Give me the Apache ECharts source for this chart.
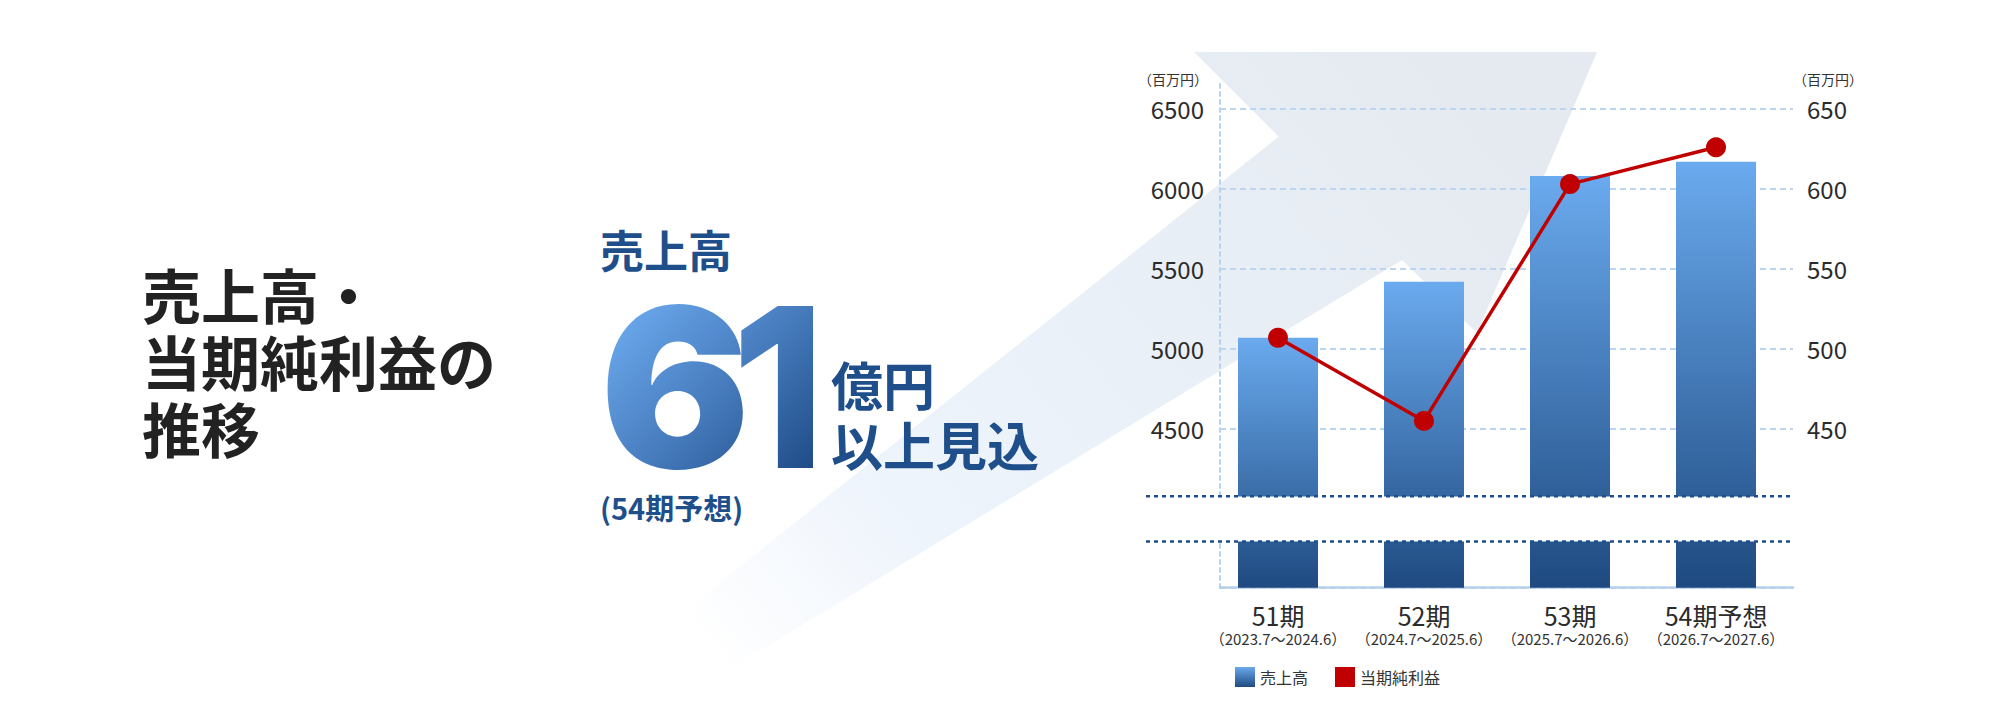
<!DOCTYPE html>
<html><head><meta charset="utf-8">
<script src="https://cdn.jsdelivr.net/npm/echarts@6/dist/echarts.min.js"></script>
<style>
html,body{margin:0;padding:0;background:#fff}
#wrap{position:relative;width:2000px;height:714px}
#c{position:absolute;left:0;top:0;width:2000px;height:714px}
#big{position:absolute;left:600px;top:298px;margin:0;font-family:Inter,Lato,sans-serif;font-weight:900;font-size:223px;line-height:0.8;
  letter-spacing:-19px;white-space:nowrap;color:transparent;
  background:linear-gradient(135deg,#72b2f6 0%,#4a80c2 50%,#1d4a85 100%);-webkit-background-clip:text;background-clip:text;}
</style>
</head><body><div id="wrap"><div id="c"></div><div id="big"></div></div>
<script>
// ---- data ----
const categories = ['51期', '52期', '53期', '54期予想'];
const periods = ['（2023.7～2024.6）', '（2024.7～2025.6）', '（2025.7～2026.6）', '（2026.7～2027.6）'];
const sales = [5070, 5420, 6080, 6170];      // 売上高 (百万円)
const profit = [507, 455, 603, 626];         // 当期純利益 (百万円)
const salesAxis = { min: 0, max: 6660, interval: 500, firstLabel: 4500, brkStart: 288, brkEnd: 4080, brkGap: 284 };
const profitAxis = { min: 0, max: 666, interval: 50, firstLabel: 450, brkStart: 28.8, brkEnd: 408, brkGap: 28.4 };
const unitLabel = '（百万円）';
const headline = { label: '売上高', digits: '61', unit: '億円\n以上見込', note: '(54期予想)' };

document.getElementById('big').textContent = headline.digits;

// ---- style ----
const FONT = '"Noto Sans CJK JP", "Noto Sans", sans-serif';
const NAVY = '#1f4f8a';
const TXT = '#333';
const chart = echarts.init(document.getElementById('c'), null, { renderer: 'svg' });

const barGrad = new echarts.graphic.LinearGradient(0, 0, 0, 1, [
  { offset: 0, color: '#6aaaee' }, { offset: 1, color: '#1e4a80' }
]);
const arrowGrad = new echarts.graphic.LinearGradient(1450, 60, 720, 665, [
  { offset: 0, color: '#e5eaf1' }, { offset: 0.45, color: '#eaf0f7' },
  { offset: 0.75, color: '#eef4fc' }, { offset: 1, color: '#ffffff' }
], true);

function labelFmt(ax) {
  return v => (v >= ax.firstLabel && Math.abs(v / ax.interval - Math.round(v / ax.interval)) < 1e-6 ? String(Math.round(v)) : '');
}

function makeY(ax, grid, pos, visible, extra) {
  return Object.assign({
    type: 'value', gridIndex: grid, position: pos, min: ax.min, max: ax.max, interval: ax.interval,
    show: visible,
    breaks: [{ start: ax.brkStart, end: ax.brkEnd, gap: ax.brkGap }],
    breakArea: { show: false },
    axisTick: { show: false },
    axisLine: { show: false },
    splitLine: { show: false },
    axisLabel: { show: visible, fontFamily: FONT, fontSize: 24, color: '#2b2b2b', formatter: labelFmt(ax) }
  }, extra || {});
}

const graphics = [
  { type: 'polygon', id: 'arrow', z: -10, silent: true,
    shape: { points: [[1194, 52], [1597, 52], [1477, 333], [1402, 260], [656, 714], [555, 714], [1278.6, 136.7]] },
    style: { fill: arrowGrad } },
  { type: 'text', id: 'title', x: 142, y: 360, silent: true,
    style: { text: '売上高・\n当期純利益の\n推移', fontFamily: FONT, fontSize: 59, fontWeight: 'bold',
      lineHeight: 67, fill: '#222', align: 'left', verticalAlign: 'middle' } },
  { type: 'text', id: 'sub', x: 600, y: 249, silent: true,
    style: { text: headline.label, fontFamily: FONT, fontSize: 44, fontWeight: 'bold', fill: NAVY, align: 'left', verticalAlign: 'middle' } },
  { type: 'text', id: 'unit', x: 831, y: 413.5, silent: true,
    style: { text: headline.unit, fontFamily: FONT, fontSize: 52, fontWeight: 'bold', lineHeight: 60, fill: NAVY, align: 'left', verticalAlign: 'middle' } },
  { type: 'text', id: 'note', x: 600, y: 507, silent: true,
    style: { text: headline.note, fontFamily: FONT, fontSize: 29, fontWeight: 'bold', fill: NAVY, align: 'left', verticalAlign: 'middle' } }
];

const option = {
  animation: false,
  backgroundColor: 'transparent',
  textStyle: { fontFamily: FONT },
  grid: [
    { left: 1220, right: 207, top: 83.3, bottom: 126.3 },
    { left: 1205, right: 211, top: 83.3, bottom: 126.3 }
  ],
  legend: {
    left: 1230, top: 662, itemWidth: 20, itemHeight: 20, itemGap: 27,
    textStyle: { fontFamily: FONT, fontSize: 16, color: TXT },
    data: [{ name: '売上高', icon: 'rect' }, { name: '当期純利益', icon: 'rect' }]
  },
  xAxis: [
    { type: 'category', gridIndex: 0, data: categories,
      axisLine: { show: true, lineStyle: { color: '#b7cfea', width: 2.5 } },
      axisTick: { show: false }, axisLabel: { show: false }, splitLine: { show: false } },
    { type: 'category', gridIndex: 1, data: categories,
      axisLine: { show: false }, axisTick: { show: false }, splitLine: { show: false },
      axisLabel: {
        margin: 13, color: TXT, interval: 0,
        formatter: (v, i) => '{a|' + v + '}\n{b|' + periods[i] + '}',
        rich: { a: { fontFamily: FONT, fontSize: 25, lineHeight: 28, color: '#2b2b2b' },
                b: { fontFamily: FONT, fontSize: 15, lineHeight: 20, color: TXT } }
      } }
  ],
  yAxis: [
    makeY(salesAxis, 0, 'left', true, {
      name: unitLabel, nameLocation: 'end', nameGap: 4,
      nameTextStyle: { fontFamily: FONT, fontSize: 14, color: TXT, align: 'right', verticalAlign: 'middle', padding: [0, 12, 0, 0] },
      axisLine: { show: true, lineStyle: { color: '#b9d3ef', width: 2, type: [4, 4] } },
      splitLine: { show: true, showMaxLine: false, lineStyle: { color: '#bcd5f0', width: 2, type: [6, 4] } },
      breakArea: { show: true, itemStyle: { color: '#ffffff', borderWidth: 0, borderColor: 'rgba(0,0,0,0)', opacity: 1 },
        zigzagAmplitude: 0, zigzagZ: 100, expandOnClick: false },
      axisLabel: { show: true, showMaxLabel: false, margin: 16, fontFamily: FONT, fontSize: 24, color: '#2b2b2b', formatter: labelFmt(salesAxis) }
    }),
    makeY(profitAxis, 0, 'right', true, {
      name: unitLabel, nameLocation: 'end', nameGap: 4,
      nameTextStyle: { fontFamily: FONT, fontSize: 14, color: TXT, align: 'left', verticalAlign: 'middle' },
      axisLabel: { show: true, showMaxLabel: false, margin: 14, fontFamily: FONT, fontSize: 24, color: '#2b2b2b', formatter: labelFmt(profitAxis) }
    }),
    makeY(salesAxis, 1, 'left', false),
    makeY(profitAxis, 1, 'right', false)
  ],
  series: [
    { name: '売上高', type: 'bar', xAxisIndex: 1, yAxisIndex: 2, data: sales, barWidth: 80,
      itemStyle: { color: barGrad }, z: 2 },
    { name: '当期純利益', type: 'line', xAxisIndex: 1, yAxisIndex: 3, data: profit,
      symbol: 'circle', symbolSize: 20, z: 5,
      lineStyle: { color: '#c00000', width: 3.5 }, itemStyle: { color: '#c00000' } }
  ],
  graphic: graphics
};

chart.setOption(option);
const yTop = chart.convertToPixel({ yAxisIndex: 0 }, salesAxis.brkEnd);
const yBot = chart.convertToPixel({ yAxisIndex: 0 }, salesAxis.brkStart);
const brkStyle = { stroke: NAVY, lineWidth: 2.5, lineDash: [4, 4] };
option.graphic = graphics.concat([
  { type: 'line', id: 'brkTop', z: 200, silent: true, shape: { x1: 1146, y1: yTop, x2: 1793, y2: yTop }, style: brkStyle },
  { type: 'line', id: 'brkBot', z: 200, silent: true, shape: { x1: 1146, y1: yBot, x2: 1793, y2: yBot }, style: brkStyle }
]);
chart.setOption(option, true);
</script></body></html>
